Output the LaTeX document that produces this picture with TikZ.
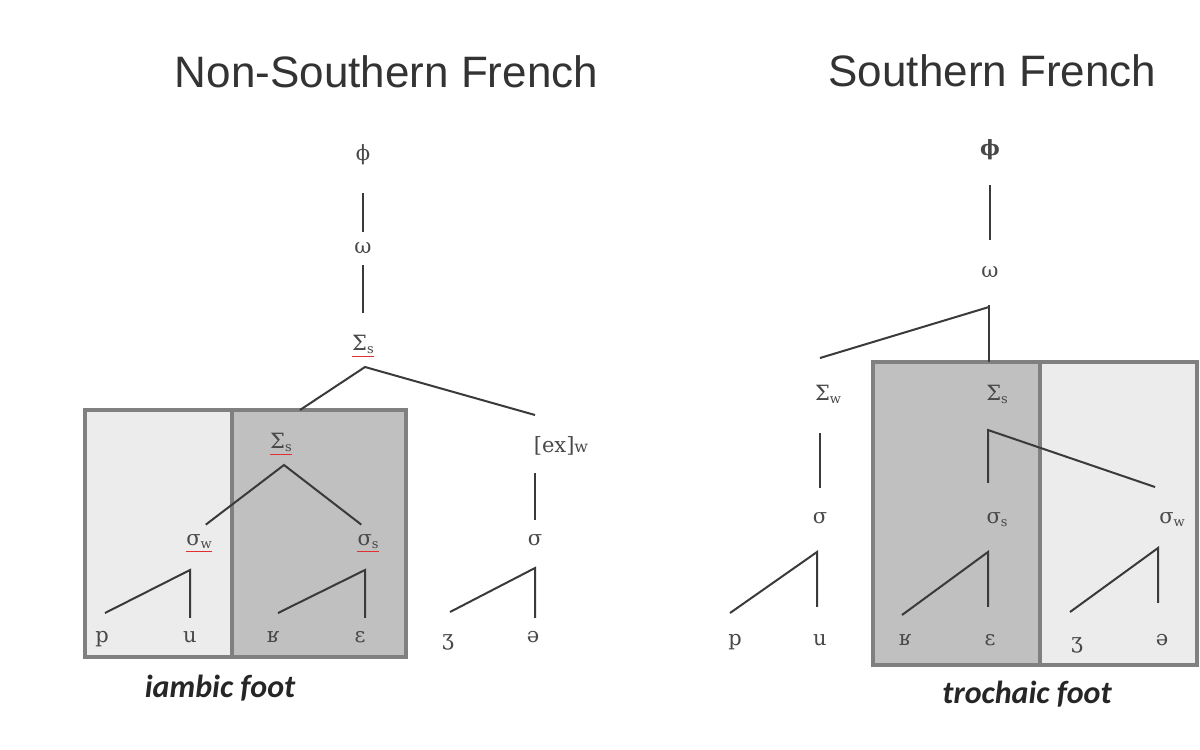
\documentclass[tikz,border=0pt]{standalone}
\usepackage{fontspec}
\setmainfont{DejaVu Serif}
\newfontfamily\titlefont{Liberation Sans}
\newfontfamily\footfont{Carlito}
\usepackage{tikz}
\usetikzlibrary{calc}
\definecolor{branchgrey}{HTML}{3A3A3A}
\definecolor{labgrey}{HTML}{484848}
\definecolor{titlegrey}{HTML}{333333}
\definecolor{footgrey}{HTML}{262626}
\definecolor{boxline}{HTML}{808080}
\definecolor{cellLight}{HTML}{ECECEC}
\definecolor{cellDark}{HTML}{C0C0C0}
\definecolor{spellred}{HTML}{E03030}
\newcommand{\lsub}[1]{\raisebox{-3pt}{\fontsize{13}{13}\selectfont #1}}

\begin{document}
\begin{tikzpicture}[x=1pt,y=1pt,yscale=-1,
  lab/.style={inner sep=0pt, text height=15pt, text depth=5pt, text=labgrey, font=\fontsize{21}{21}\selectfont},
  br/.style={draw=branchgrey, line width=2pt},
  spell/.style={draw=spellred, line width=1pt},
  cell/.style={draw=boxline, line width=3.5pt},
  ttl/.style={anchor=base, text=titlegrey, font=\titlefont\fontsize{44}{50}\selectfont},
  footlab/.style={anchor=base, text=footgrey, font=\footfont\bfseries\itshape\fontsize{32}{36}\selectfont}]
\useasboundingbox (0,0) rectangle (1200,750);

% feet boxes
\filldraw[cell, fill=cellLight] (85,410) rectangle (232,657);
\filldraw[cell, fill=cellDark] (232,410) rectangle (406,657);
\filldraw[cell, fill=cellDark] (873,362) rectangle (1040,665);
\filldraw[cell, fill=cellLight] (1040,362) rectangle (1197,665);

% titles
\node[ttl] (ttlA) at (386.5,87) {Non-Southern French};
\node[ttl] (ttlB) at (992.5,86) {Southern French};

% Non-Southern tree
\node[lab] (phiA) at (363,155) {ϕ};
\node[lab] (omA) at (363,248) {ω};
\node[lab] (SigA) at (363,345) {Σ\lsub{s}};
\node[lab] (SigB) at (281,443) {Σ\lsub{s}};
\node[lab] (sigWA) at (199,540) {σ\lsub{w}};
\node[lab] (sigSA) at (368,540) {σ\lsub{s}};
\node[lab] (exA) at (561,447) {[ex]{\fontsize{16}{16}\selectfont w}};
\node[lab] (sigA) at (535,540) {σ};
\node[lab] (pA) at (102,637) {p};
\node[lab] (uA) at (190,637) {u};
\node[lab] (rA) at (273,637) {ʁ};
\node[lab] (eA) at (360,637) {ɛ};
\node[lab] (zA) at (448,640) {ʒ};
\node[lab] (schA) at (533,637) {ə};

\draw[br, shorten <=28pt, shorten >=6pt] (phiA.south) -- (omA.north);
\draw[br, shorten <=7pt, shorten >=22pt] (omA.south) -- (SigA.north);
\coordinate (apA) at (365,367);
\coordinate (ftTopA) at (300,410);
\coordinate (exTopA) at (535,415);
\draw[br] (ftTopA) -- (apA) -- (exTopA);
\coordinate (apB) at (284,465);
\draw[br, shorten <=8.5pt, shorten >=8.5pt] (sigWA.north) -- (apB) -- (sigSA.north);
\coordinate (apWA) at (190,570);
\coordinate (lpA) at (105,613);
\draw[br, shorten >=9pt] (lpA) -- (apWA) -- (apWA |- uA.north);
\coordinate (apSA) at (365,570);
\coordinate (lrA) at (278,613);
\draw[br, shorten >=9pt] (lrA) -- (apSA) -- (apSA |- eA.north);
\draw[br, shorten <=16pt, shorten >=10pt] (exA.south -| sigA.north) -- (sigA.north);
\coordinate (apCA) at (535,568);
\coordinate (lzA) at (450,612);
\draw[br, shorten >=9pt] (lzA) -- (apCA) -- (apCA |- schA.north);

\foreach \n in {SigA,SigB,sigWA,sigSA}
  \draw[spell] ($(\n.south west)+(0,1.5)$) -- ($(\n.south east)+(0,1.5)$);

% Southern tree
\node[lab, font=\fontsize{21}{21}\selectfont\bfseries] (phiB) at (990,150) {ϕ};
\node[lab] (omB) at (990,272) {ω};
\node[lab] (SigWB) at (828,395) {Σ\lsub{w}};
\node[lab] (SigSB) at (997,395) {Σ\lsub{s}};
\node[lab] (sigB) at (820,518) {σ};
\node[lab] (sigSB) at (997,518) {σ\lsub{s}};
\node[lab] (sigWB) at (1172,518) {σ\lsub{w}};
\node[lab] (pB) at (735,640) {p};
\node[lab] (uB) at (820,640) {u};
\node[lab] (rB) at (905,640) {ʁ};
\node[lab] (eB) at (990,640) {ɛ};
\node[lab] (zB) at (1077,643) {ʒ};
\node[lab] (schB) at (1162,640) {ə};

\draw[br, shorten <=25pt, shorten >=22pt] (phiB.south) -- (omB.north);
\coordinate (jB) at (989,307);
\coordinate (ftTopB) at (989,362);
\coordinate (wTopB) at (820,358);
\draw[br, shorten <=23pt] (omB.south -| jB) -- (ftTopB);
\draw[br] (wTopB) -- (jB);
\draw[br, shorten <=28pt, shorten >=20pt] (SigWB.south -| sigB.north) -- (sigB.north);
\coordinate (apC) at (817,552);
\coordinate (lpB) at (730,613);
\draw[br, shorten >=23pt] (lpB) -- (apC) -- (apC |- uB.north);
\coordinate (apSB) at (988,430);
\coordinate (wEndB) at (1155,487);
\draw[br, shorten >=25pt] (wEndB) -- (apSB) -- (apSB |- sigSB.north);
\coordinate (apD) at (988,552);
\coordinate (lrB) at (902,615);
\draw[br, shorten >=23pt] (lrB) -- (apD) -- (apD |- eB.north);
\coordinate (apE) at (1158,548);
\coordinate (lzB) at (1070,612);
\draw[br, shorten >=27pt] (lzB) -- (apE) -- (apE |- schB.north);

% foot labels
\node[footlab] (ftA) at (220,697) {iambic foot};
\node[footlab] (ftB) at (1027,703) {trochaic foot};
\end{tikzpicture}
\end{document}
